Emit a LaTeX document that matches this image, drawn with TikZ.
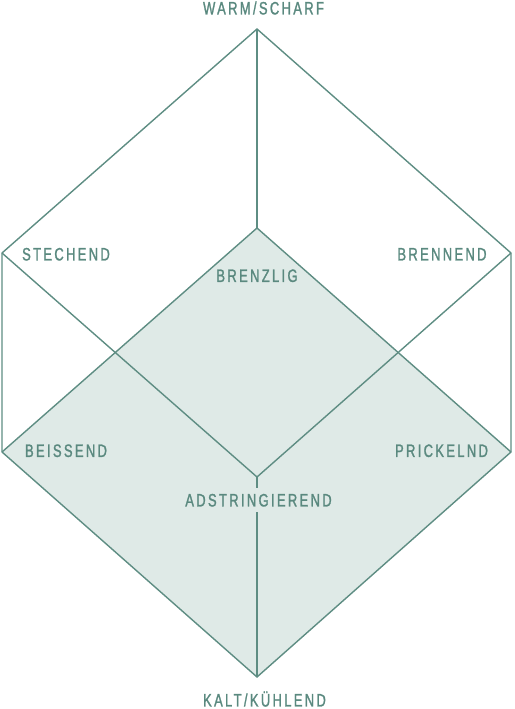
\documentclass[tikz,border=0pt]{standalone}
\usepackage{fontspec}
\newfontfamily\labfont[FakeStretch=0.72,LetterSpace=13,FakeBold=1.3]{Liberation Sans}
\definecolor{linec}{HTML}{5E8D83}
\definecolor{textc}{HTML}{5A897F}
\definecolor{shadec}{HTML}{DFEAE7}
\begin{document}
\begin{tikzpicture}[x=1pt,y=-1pt,
  edge/.style={draw=linec,line width=1.4pt,line join=miter},
  lab/.style={text=textc,font=\labfont\fontsize{18}{18}\selectfont,inner sep=0pt,text height=12.9pt,text depth=0pt}]
\useasboundingbox (0,0) rectangle (514,709);
\coordinate (T) at (257,29);
\coordinate (UL) at (2,253);
\coordinate (UR) at (511,253);
\coordinate (LL) at (2,452);
\coordinate (LR) at (511,452);
\coordinate (B) at (257,677);
\coordinate (DT) at (257,228);
\coordinate (C) at (257,477);
\fill[shadec] (DT) -- (LR) -- (B) -- (LL) -- cycle;
\draw[edge] (T) -- (UR) -- (LR) -- (B) -- (LL) -- (UL) -- cycle;
\draw[edge] (T) -- (DT);
\draw[edge] (DT) -- (LL);
\draw[edge] (DT) -- (LR);
\draw[edge] (UL) -- (C);
\draw[edge] (UR) -- (C);
\draw[edge] (C) -- (B);
\node[lab] (warm) at (263.5,8) {WARM/SCHARF};
\node[lab] (stech) at (66,254) {STECHEND};
\node[lab] (brenn) at (442,254) {BRENNEND};
\node[lab] (brenz) at (257,275.5) {BRENZLIG};
\node[lab] (beiss) at (66,450.5) {BEISSEND};
\node[lab] (prick) at (441.5,450.5) {PRICKELND};
\node[lab,fill=shadec,inner xsep=4pt,inner ysep=6pt] (adst) at (258.5,500) {ADSTRINGIEREND};
\node[lab] (kalt) at (264.5,700) {KALT/KÜHLEND};
\end{tikzpicture}
\end{document}
